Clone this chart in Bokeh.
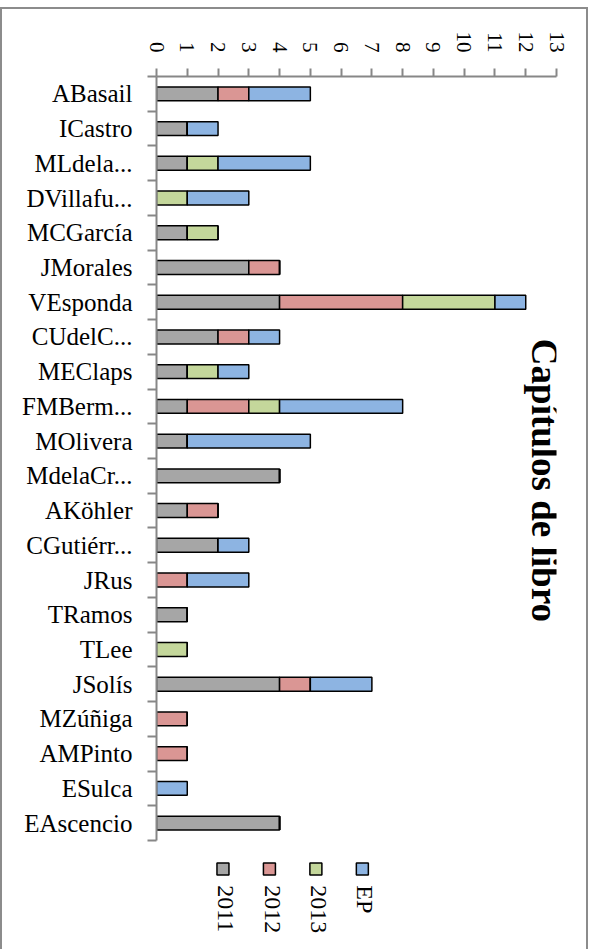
import math
from bokeh.plotting import figure
from bokeh.models import ColumnDataSource, FixedTicker, Range1d
from bokeh.core.properties import value
from bokeh.embed import file_html
from bokeh.resources import INLINE

# ---- data ----
authors = ["ABasail", "ICastro", "MLdela...", "DVillafu...", "MCGarcía", "JMorales",
           "VEsponda", "CUdelC...", "MEClaps", "FMBerm...", "MOlivera", "MdelaCr...",
           "AKöhler", "CGutiérr...", "JRus", "TRamos", "TLee", "JSolís", "MZúñiga",
           "AMPinto", "ESulca", "EAscencio"]
y2011 = [2, 1, 1, 0, 1, 3, 4, 2, 1, 1, 1, 4, 1, 2, 0, 1, 0, 4, 0, 0, 0, 4]
y2012 = [1, 0, 0, 0, 0, 1, 4, 1, 0, 2, 0, 0, 1, 0, 1, 0, 0, 1, 1, 1, 0, 0]
y2013 = [0, 0, 1, 1, 1, 0, 3, 0, 1, 1, 0, 0, 0, 0, 0, 0, 1, 0, 0, 0, 0, 0]
yEP   = [2, 1, 3, 2, 0, 0, 1, 1, 1, 4, 4, 0, 0, 1, 2, 0, 0, 2, 0, 0, 1, 0]
series = ["2011", "2012", "2013", "EP"]
x_ticks = list(range(0, 14))
title_text = "Capítulos de libro"

# ---- styles ----
colors = ["#A6A6A6", "#DA9694", "#C4D79B", "#8DB4E2"]
axis_color = "#878787"
serif = "Liberation Serif"

idx = list(range(len(authors)))
source = ColumnDataSource(dict(idx=idx, **{"2011": y2011, "2012": y2012, "2013": y2013, "EP": yEP}))

n = len(authors)
p = figure(width=588, height=949,
           x_range=Range1d(0, 13), y_range=Range1d(n + 2.64, -0.5),
           x_axis_location="above",
           output_backend="svg", toolbar_location=None,
           min_border_left=156, min_border_right=32, min_border_top=76, min_border_bottom=0)
p.background_fill_color = None
p.border_fill_color = None
p.outline_line_color = None
p.styles = {"background-color": "white",
            "box-shadow": ("inset 0 7px 0 white, inset 0 9px 0 #8c8c8c, "
                           "inset 2px 0 0 #8c8c8c, inset -2px 0 0 #8c8c8c")}
p.xgrid.visible = False
p.ygrid.visible = False

p.hbar_stack(series, y="idx", height=0.4, source=source,
             fill_color=colors, line_color="black", line_width=1.5)

# x axis (top)
xa = p.xaxis[0]
xa.ticker = FixedTicker(ticks=x_ticks)
xa.bounds = (0, 13)
xa.major_label_orientation = -math.pi / 2
xa.major_tick_out = 8
xa.major_tick_in = 0
xa.minor_tick_out = 0
xa.minor_tick_in = 0
xa.major_label_standoff = 16
xa.axis_line_color = axis_color
xa.axis_line_width = 2
xa.major_tick_line_color = axis_color
xa.major_tick_line_width = 2
xa.major_label_text_font = serif
xa.major_label_text_font_size = "21px"
xa.major_label_text_color = "black"

# y axis (left, categories)
ya = p.yaxis[0]
ya.ticker = FixedTicker(ticks=idx, minor_ticks=[i - 0.5 for i in range(n + 1)])
ya.bounds = (-0.5, n - 0.5)
ya.major_label_overrides = {i: a for i, a in zip(idx, authors)}
ya.major_tick_out = 0
ya.major_tick_in = 0
ya.minor_tick_out = 9
ya.minor_tick_in = 0
ya.major_label_standoff = 15
ya.axis_line_color = axis_color
ya.axis_line_width = 2
ya.minor_tick_line_color = axis_color
ya.minor_tick_line_width = 2
ya.major_label_text_font = serif
ya.major_label_text_font_size = "25px"
ya.major_label_text_color = "black"

# title (rotated, inside plot at right)
p.text(x=[12.61], y=[11.13], text=[title_text], angle=-math.pi / 2,
       text_align="center", text_baseline="middle",
       text_font=value(serif), text_font_size="37px", text_font_style="bold",
       text_color="black")

# legend (rotated labels below the plot)
legend_x = [2.16, 3.67, 5.18, 6.69]
p.rect(x=legend_x, y=[n + 0.32] * 4, width=12, height=12,
       width_units="screen", height_units="screen",
       fill_color=colors, line_color="black", line_width=1.5)
p.text(x=legend_x, y=[n + 0.79] * 4, text=series, angle=-math.pi / 2, x_offset=3,
       text_align="left", text_baseline="middle",
       text_font=value(serif), text_font_size="24px", text_color="black")

open("out.html", "w").write(file_html(p, INLINE))
